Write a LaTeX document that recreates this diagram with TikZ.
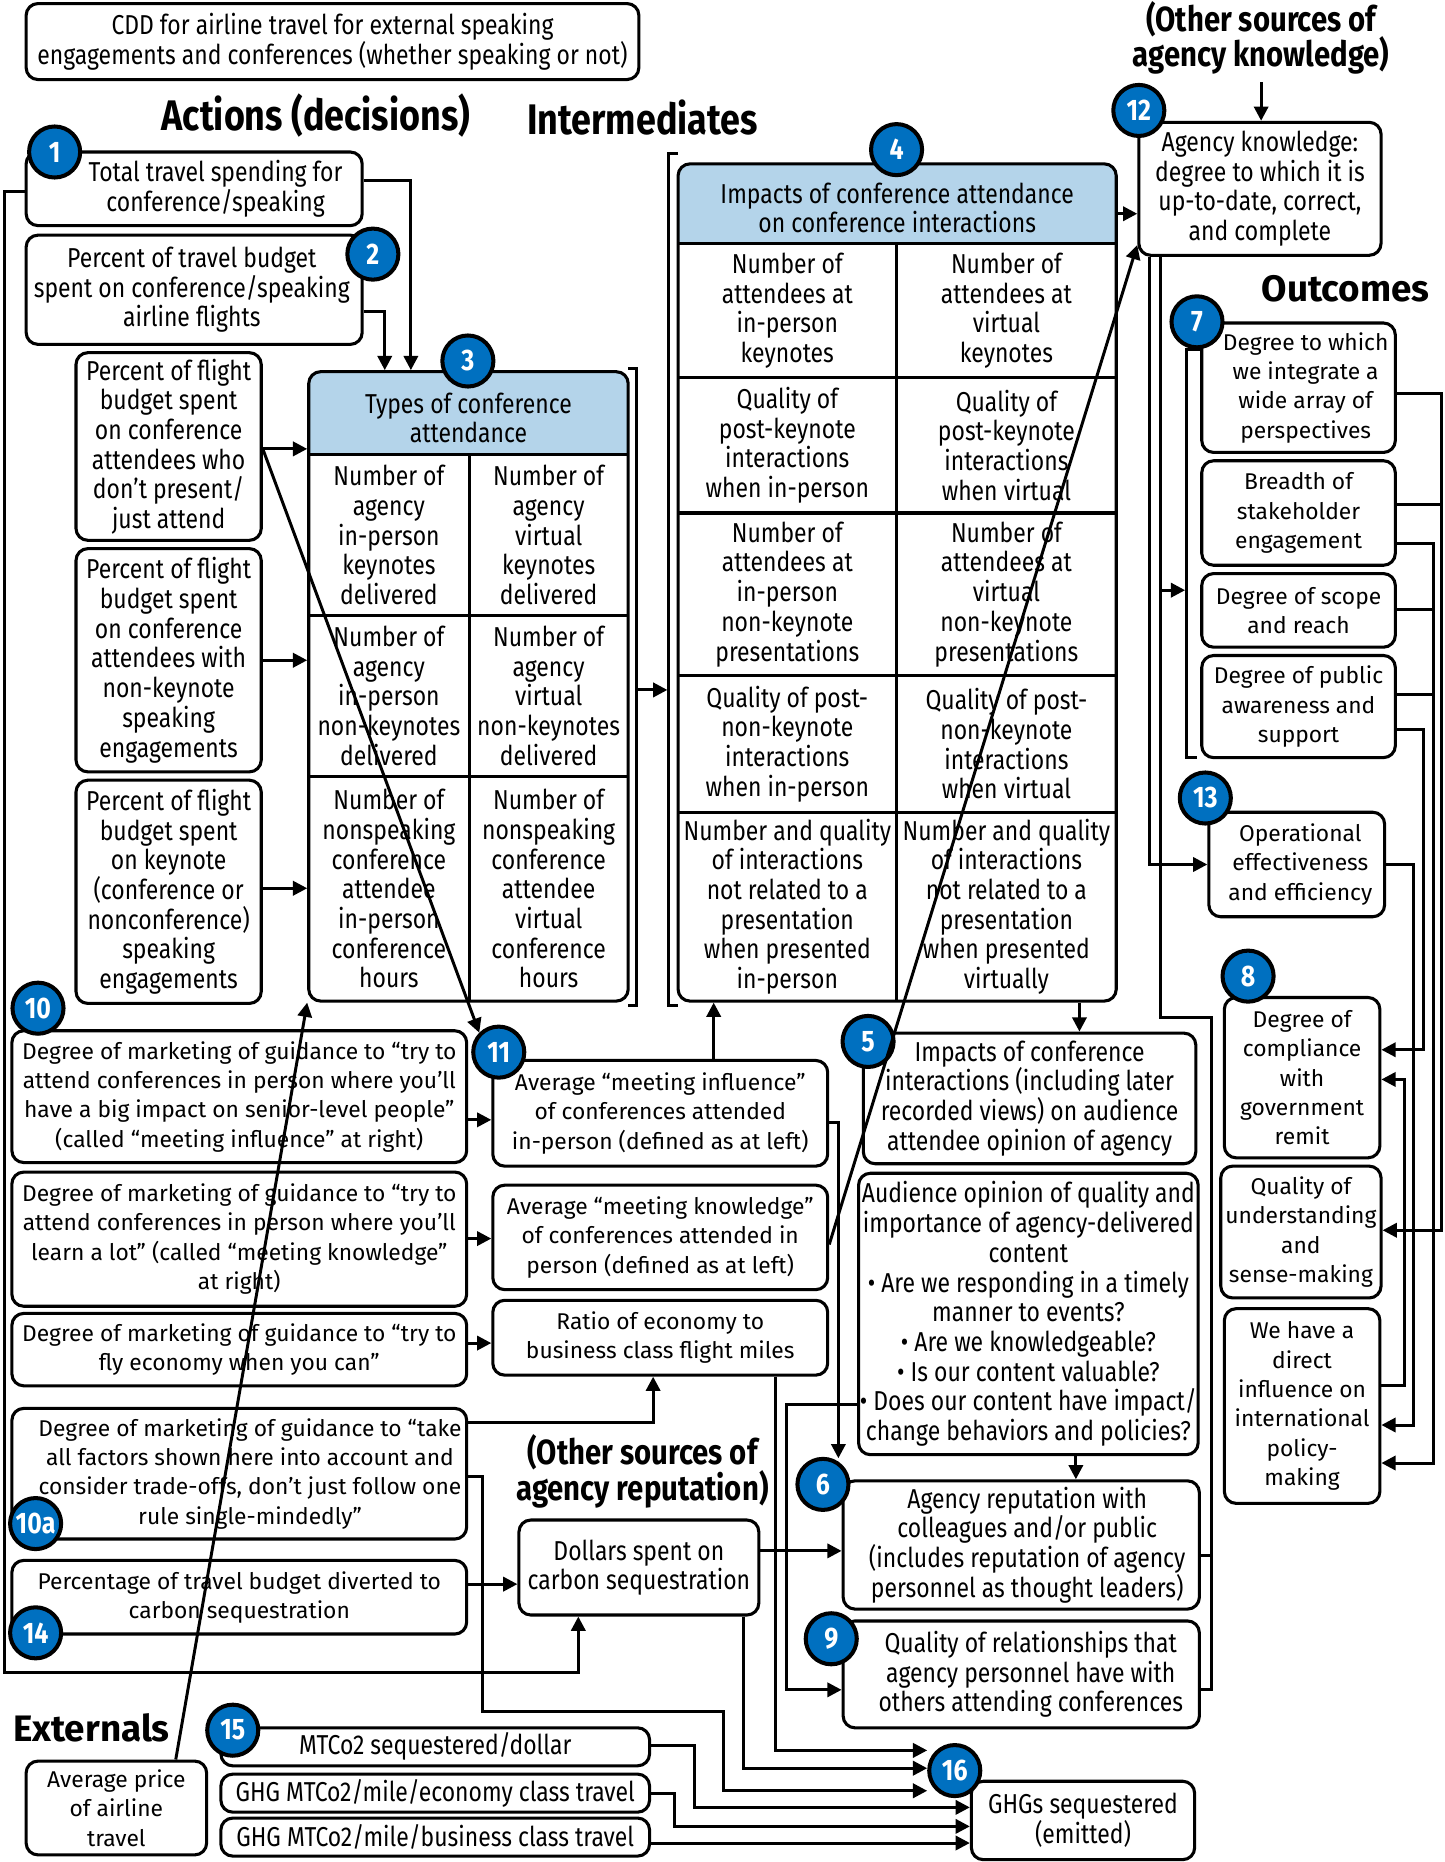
\documentclass[tikz,border=0pt]{standalone}
\usepackage{fontspec}
\setmainfont{Fira Sans}
\newfontfamily\cnd{Fira Sans}[FakeStretch=0.84]
\usetikzlibrary{arrows.meta}
\definecolor{badgeblue}{RGB}{0,112,192}
\definecolor{hdrblue}{RGB}{180,212,234}
\tikzset{
  box/.style={draw, line width=1.3pt, rounded corners=5pt, fill=white, inner sep=0pt},
  cn/.style={font=\cnd\fontsize{11.5}{12.5}\selectfont, align=center, inner sep=0pt},
  wd/.style={font=\fontsize{9.6}{12.35}\selectfont, align=center, inner sep=0pt},
  tline/.style={line width=1.3pt},
  conn/.style={line width=1.25pt},
  arr/.style={conn, -{Triangle[length=6pt,width=6pt]}},
  badge/.style={circle, draw, line width=1.7pt, fill=badgeblue, text=white, minimum size=21.5pt, inner sep=0pt, font=\cnd\bfseries\fontsize{12.5}{12.5}\selectfont},
  hd/.style={font=\cnd\bfseries\fontsize{18}{18}\selectfont, inner sep=0pt, align=center},
  hds/.style={font=\cnd\bfseries\fontsize{14.7}{15}\selectfont, inner sep=0pt, align=center},
  hdw/.style={font=\bfseries\fontsize{15.5}{15.5}\selectfont, inner sep=0pt, align=center},
}
\newcommand\bx[8]{%
  \node[box, minimum width={(#5-#3)*0.5pt}, minimum height={(#6-#4)*0.5pt}] (#1) at ({(#3+#5)/2},{(#4+#6)/2}) {};
  \node[#2] (#1t) at ({(#3+#5)/2+#7},{(#4+#6)/2}) {#8};}
\begin{document}
\begin{tikzpicture}[x=0.5pt,y=-0.5pt]
\useasboundingbox (0,0) rectangle (1216,1568);

% ---------- headings ----------
\node[hd] (HA) at (266,97) {Actions (decisions)};
\node[hd] (HI) at (541,99) {Intermediates};
\node[hds] (OSK) at (1062,32) {(Other sources of\\agency knowledge)};
\node[hdw] (HO) at (1133,243) {Outcomes};
\node[hds] (OSR) at (541,1239) {(Other sources of\\agency reputation)};
\node[hdw] (HE) at (77,1455) {Externals};

% ---------- boxes ----------
\bx{T0}{cn}{22}{3}{538}{67}{0}{CDD for airline travel for external speaking\\engagements and conferences (whether speaking or not)}
\bx{B1}{cn}{22}{128}{305}{190}{18}{Total travel spending for\\conference/speaking}
\bx{B2}{cn}{22}{198}{305}{290}{-2}{Percent of travel budget\\spent on conference/speaking\\airline flights}
\bx{Bpa}{cn}{64}{297}{220}{455}{0}{Percent of flight\\budget spent\\on conference\\attendees who\\don’t present/\\just attend}
\bx{Bnk}{cn}{64}{462}{220}{650}{0}{Percent of flight\\budget spent\\on conference\\attendees with\\non-keynote\\speaking\\engagements}
\bx{Bkn}{cn}{64}{657}{220}{845}{0}{Percent of flight\\budget spent\\on keynote\\(conference or\\nonconference)\\speaking\\engagements}
\bx{B12}{cn}{959}{103}{1163}{215}{0}{Agency knowledge:\\degree to which it is\\up-to-date, correct,\\and complete}
\bx{B7}{wd}{1012}{272}{1175}{381}{6}{Degree to which\\we integrate a\\wide array of\\perspectives}
\bx{Bbr}{wd}{1012}{388}{1175}{476}{0}{Breadth of\\stakeholder\\engagement}
\bx{Bsc}{wd}{1012}{483}{1175}{545}{0}{Degree of scope\\and reach}
\bx{Bpu}{wd}{1012}{552}{1175}{638}{0}{Degree of public\\awareness and\\support}
\bx{B13}{wd}{1018}{684}{1166}{772}{3}{Operational\\effectiveness\\and efficiency}
\bx{B8}{wd}{1031}{840}{1162}{975}{0}{Degree of\\compliance\\with\\government\\remit}
\bx{Bqu}{wd}{1028}{982}{1163}{1093}{0}{Quality of\\understanding\\and\\sense-making}
\bx{Bdi}{wd}{1031}{1102}{1162}{1266}{0}{We have a\\direct\\influence on\\international\\policy-\\making}
\bx{B10}{wd}{10}{868}{393}{979}{0}{Degree of marketing of guidance to “try to\\attend conferences in person where you’ll\\have a big impact on senior-level people”\\(called “meeting influence” at right)}
\bx{B10b}{wd}{10}{987}{393}{1100}{0}{Degree of marketing of guidance to “try to\\attend conferences in person where you’ll\\learn a lot” (called “meeting knowledge”\\at right)}
\bx{B10c}{wd}{10}{1106}{393}{1167}{0}{Degree of marketing of guidance to “try to\\fly economy when you can”}
\bx{B10a}{wd}{10}{1186}{393}{1296}{9}{Degree of marketing of guidance to “take\\all factors shown here into account and\\consider trade-offs, don’t just follow one\\rule single-mindedly”}
\bx{B14}{wd}{10}{1314}{393}{1376}{0}{Percentage of travel budget diverted to\\carbon sequestration}
\bx{B11}{wd}{415}{893}{697}{982}{0}{Average “meeting influence”\\of conferences attended\\in-person (defined as at left)}
\bx{Bmk}{wd}{415}{998}{697}{1086}{0}{Average “meeting knowledge”\\of conferences attended in\\person (defined as at left)}
\bx{Bra}{wd}{415}{1095}{697}{1158}{0}{Ratio of economy to\\business class flight miles}
\bx{B5}{cn}{727}{870}{1007}{980}{0}{Impacts of conference\\interactions (including later\\recorded views) on audience\\attendee opinion of agency}
\bx{Bau}{cn}{723}{988}{1009}{1225}{0}{Audience opinion of quality and\\importance of agency-delivered\\content\\• Are we responding in a timely\\manner to events?\\• Are we knowledgeable?\\• Is our content valuable?\\• Does our content have impact/\\change behaviors and policies?}
\bx{B6}{cn}{710}{1247}{1010}{1355}{5}{Agency reputation with\\colleagues and/or public\\(includes reputation of agency\\personnel as thought leaders)}
\bx{B9}{cn}{710}{1365}{1010}{1455}{8}{Quality of relationships that\\agency personnel have with\\others attending conferences}
\bx{B16}{cn}{818}{1500}{1006}{1566}{0}{GHGs sequestered\\(emitted)}
\bx{Bdo}{cn}{437}{1280}{639}{1360}{0}{Dollars spent on\\carbon sequestration}
\bx{Bpr}{wd}{22}{1483}{174}{1562}{0}{Average price\\of airline\\travel}
\bx{B15}{cn}{186}{1455}{547}{1487}{0}{MTCo2 sequestered/dollar}
\bx{Beco}{cn}{186}{1494}{547}{1526}{0}{GHG MTCo2/mile/economy class travel}
\bx{Bbus}{cn}{186}{1531}{547}{1563}{0}{GHG MTCo2/mile/business class travel}

% ---------- table 3 ----------
\begin{scope}
\clip[rounded corners=5pt] (260,313) rectangle (529,843);
\fill[white] (260,313) rectangle (529,843);
\fill[hdrblue] (260,313) rectangle (529,383);
\end{scope}
\draw[tline] (260,383) -- (529,383) (395,383) -- (395,843) (260,518) -- (529,518) (260,654) -- (529,654);
\node[box, fill=none, minimum width=134.5pt, minimum height=265pt] (B3) at (394.5,578) {};
\node[cn] (B3h) at (394.5,352) {Types of conference\\attendance};
\node[cn] (B3a) at (327.5,450.5) {Number of\\agency\\in-person\\keynotes\\delivered};
\node[cn] (B3b) at (462,450.5) {Number of\\agency\\virtual\\keynotes\\delivered};
\node[cn] (B3c) at (327.5,586) {Number of\\agency\\in-person\\non-keynotes\\delivered};
\node[cn] (B3d) at (462,586) {Number of\\agency\\virtual\\non-keynotes\\delivered};
\node[cn] (B3e) at (327.5,748.5) {Number of\\nonspeaking\\conference\\attendee\\in-person\\conference\\hours};
\node[cn] (B3f) at (462,748.5) {Number of\\nonspeaking\\conference\\attendee\\virtual\\conference\\hours};

% ---------- table 4 ----------
\begin{scope}
\clip[rounded corners=5pt] (571,138) rectangle (940,843);
\fill[white] (571,138) rectangle (940,843);
\fill[hdrblue] (571,138) rectangle (940,205);
\end{scope}
\draw[tline] (571,205) -- (940,205) (755,205) -- (755,843) (571,318) -- (940,318) (571,432) -- (940,432) (571,569) -- (940,569) (571,684) -- (940,684);
\node[box, fill=none, minimum width=184.5pt, minimum height=352.5pt] (B4) at (755.5,490.5) {};
\node[cn] (B4h) at (755.5,175) {Impacts of conference attendance\\on conference interactions};
\node[cn] (B4a) at (663,261.5) {Number of\\attendees at\\in-person\\keynotes};
\node[cn] (B4b) at (847.5,261.5) {Number of\\attendees at\\virtual\\keynotes};
\node[cn] (B4c) at (663,375) {Quality of\\post-keynote\\interactions\\when in-person};
\node[cn] (B4d) at (847.5,375) {Quality of\\post-keynote\\interactions\\when virtual};
\node[cn] (B4e) at (663,500.5) {Number of\\attendees at\\in-person\\non-keynote\\presentations};
\node[cn] (B4f) at (847.5,500.5) {Number of\\attendees at\\virtual\\non-keynote\\presentations};
\node[cn] (B4g) at (663,626.5) {Quality of post-\\non-keynote\\interactions\\when in-person};
\node[cn] (B4h2) at (847.5,626.5) {Quality of post-\\non-keynote\\interactions\\when virtual};
\node[cn] (B4i) at (663,763.5) {Number and quality\\of interactions\\not related to a\\presentation\\when presented\\in-person};
\node[cn] (B4j) at (847.5,763.5) {Number and quality\\of interactions\\not related to a\\presentation\\when presented\\virtually};

% ---------- brackets ----------
\draw[conn] (529,310) -- (536,310) -- (536,847) -- (529,847);
\draw[conn] (571,129) -- (563,129) -- (563,847) -- (571,847);
\coordinate (brA) at (536,581);
\coordinate (brB) at (562,581);
\draw[arr] (brA) -- (brB);
\draw[conn] (B7.west |- 0,294) -- (999,294) -- (999,638) -- (1008,638);
\coordinate (brO) at (998,497);

% ---------- connectors ----------
\draw[arr] (B1.east |- 0,152) -| (B3.north -| 346,0);
\draw[arr] (B2.east |- 0,262) -| (B3.north -| 324,0);
\draw[arr] (Bpa.east |- 0,378) -- (B3.west |- 0,378);
\draw[arr] (Bnk.east |- 0,556) -- (B3.west |- 0,556);
\draw[arr] (Bkn.east |- 0,748) -- (B3.west |- 0,748);
\draw[arr] (B4.east |- 0,180) -- (B12.west |- 0,180);
\draw[arr] ([yshift=-3pt]OSK.south) -- (OSK.south |- B12.north);
\draw[arr] (B4.south -| 909,0) -- (B5.north -| 909,0);
\draw[arr] (B11.north -| 601,0) -- (B4.south -| 601,0);
\draw[arr] (B10.east |- 0,943) -- (B11.west |- 0,943);
\draw[arr] (B10b.east |- 0,1043) -- (Bmk.west |- 0,1043);
\draw[arr] (B10c.east |- 0,1131) -- (Bra.west |- 0,1131);
\draw[arr] (B10a.east |- 0,1198) -| (Bra.south -| 550,0);
\draw[arr] (B14.east |- 0,1334) -- (Bdo.west |- 0,1334);
\draw[arr] (B1.west |- 0,161) -- (4,161) -- (4,1408) -| (Bdo.south -| 487,0);
\draw[arr] (Bdo.east |- 0,1306) -- (B6.west |- 0,1306);
\draw[arr] (B11.east |- 0,945) -- (706,945) -- (706,1228);
\draw[arr] (Bau.south -| 906,0) -- (B6.north -| 906,0);
\draw[arr] (Bau.west |- 0,1183) -- (662,1183) -- (662,1423) -- (B9.west |- 0,1423);
\draw[arr] (B15.east |- 0,1470) -- (585,1470) -- (585,1522) -- (B16.west |- 0,1522);
\draw[arr] (Beco.east |- 0,1510) -- (568,1510) -- (568,1538) -- (B16.west |- 0,1538);
\draw[arr] (Bbus.east |- 0,1552) -- (B16.west |- 0,1552);
\draw[arr] (B12.south -| 968,0) -- (968,728) -- (B13.west |- 0,728);
\draw[arr] (B12.south -| 977,0) -- (977,497) -- (brO);
\draw[conn] (977,497) -- (977,857) -- (1020,857) -- (1020,1423) -- (B9.east |- 0,1423);
\draw[conn] (B6.east |- 0,1310) -- (1020,1310);
\draw[arr] (B7.east |- 0,331) -- (1214,331) -- (1214,1036) -- (Bqu.east |- 0,1036);
\draw[conn] (Bbr.east |- 0,425) -- (1214,425);
\draw[arr] (Bbr.east |- 0,458) -- (1207,458) -- (1207,1232) -- (Bdi.east |- 0,1232);
\draw[conn] (Bsc.east |- 0,513) -- (1207,513);
\draw[conn] (Bpu.east |- 0,585) -- (1207,585);
\draw[arr] (Bpu.east |- 0,614) -- (1199,614) -- (1199,884) -- (B8.east |- 0,884);
\draw[arr] (B13.east |- 0,728) -- (1190,728) -- (1190,1200) -- (Bdi.east |- 0,1200);
\draw[arr] (Bdi.east |- 0,1167) -- (1183,1167) -- (1183,909) -- (B8.east |- 0,909);

% ---------- badges ----------
\node[badge] (b1) at (46,128) {1};
\node[badge] (b2) at (314,214) {2};
\node[badge] (b3) at (394,304) {3};
\node[badge] (b4) at (755,126) {4};
\node[badge] (b5) at (731,877) {5};
\node[badge] (b6) at (693,1250) {6};
\node[badge] (b7) at (1008,271) {7};
\node[badge] (b8) at (1051,822) {8};
\node[badge] (b9) at (700,1380) {9};
\node[badge] (b10) at (32,849) {10};
\node[badge] (b10a) at (30,1283) {10a};
\node[badge] (b11) at (420,886) {11};
\node[badge] (b12) at (959,93) {12};
\node[badge] (b13) at (1015,672) {13};
\node[badge] (b14) at (30,1375) {14};
\node[badge] (b15) at (196,1457) {15};
\node[badge] (b16) at (804,1491) {16};

% ---------- connectors into badge 16 ----------
\draw[arr] (B10a.east |- 0,1243) -- (406,1243) -- (406,1441) -- (609,1441) -- (609,1508) -- (b16.west |- 0,1508);
\draw[arr] (Bdo.south -| 626,0) -- (626,1489) -- (b16.west |- 0,1489);
\draw[arr] (Bra.south -| 653,0) -- (653,1474) -- (b16.west |- 0,1474);

% ---------- long diagonals ----------
\draw[arr] (Bpa.east |- 0,378) -- (b11.north west);
\draw[arr] (Bmk.east |- 0,1048) -- ([yshift=5pt]B12.south west);
\draw[arr] (Bpr.north -| 148,0) -- (B3.south west);
\end{tikzpicture}
\end{document}
